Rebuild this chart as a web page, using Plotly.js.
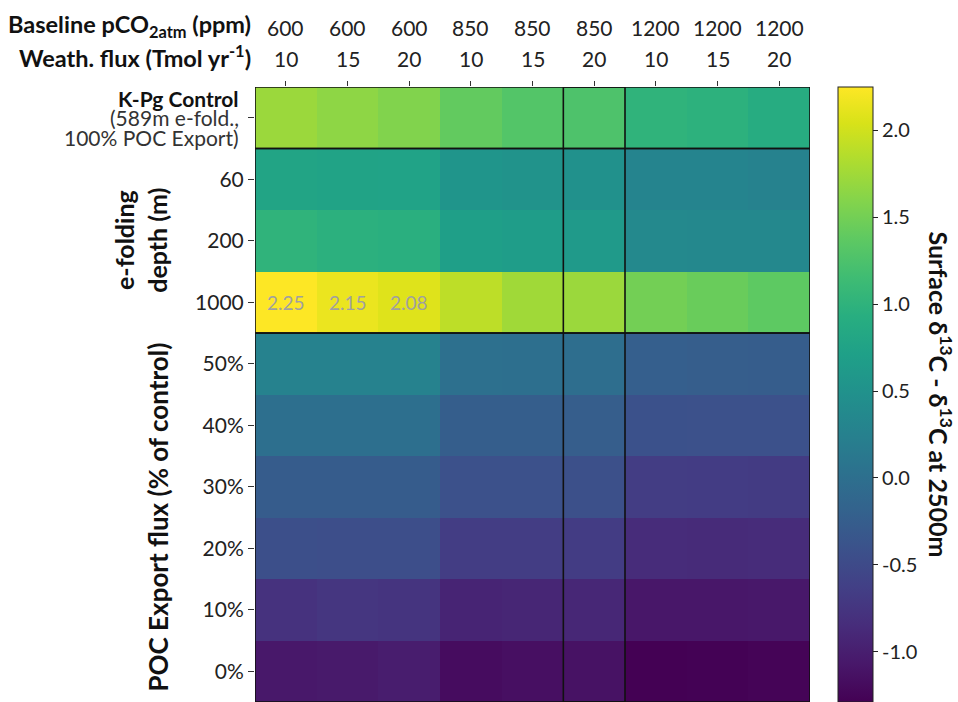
<!DOCTYPE html>
<html><head><meta charset="utf-8">
<script src="https://cdn.plot.ly/plotly-3.0.1.min.js"></script>
<style>html,body{margin:0;padding:0;background:#fff;}#chart{width:958px;height:702px;}</style>
</head><body><div id="chart"></div>
<script>
// ---- data ----
const pco2Labels = ['600','600','600','850','850','850','1200','1200','1200'];
const fluxLabels = ['10','15','20','10','15','20','10','15','20'];
const rowLabels = ['', '60', '200', '1000', '50%', '40%', '30%', '20%', '10%', '0%'];
const controlLabelLines = ['<b>K-Pg Control</b>', '(589m e-fold.,', '100% POC Export)'];
const rowControl = [1.72, 1.65, 1.58, 1.40, 1.30, 1.26, 1.01, 0.98, 0.90];
const rowEfold60 = [0.78, 0.76, 0.75, 0.55, 0.52, 0.48, 0.30, 0.29, 0.27];
const rowEfold200 = [1.01, 0.97, 0.95, 0.70, 0.67, 0.62, 0.37, 0.36, 0.35];
const rowEfold1000 = [2.25, 2.15, 2.08, 1.90, 1.75, 1.72, 1.50, 1.44, 1.37];
const rowPoc50 = [0.27, 0.27, 0.27, 0.02, 0.00, -0.01, -0.23, -0.25, -0.26];
const rowPoc40 = [0.00, 0.00, 0.00, -0.24, -0.24, -0.25, -0.41, -0.42, -0.42];
const rowPoc30 = [-0.27, -0.27, -0.27, -0.42, -0.42, -0.43, -0.66, -0.67, -0.68];
const rowPoc20 = [-0.44, -0.45, -0.45, -0.66, -0.66, -0.67, -0.86, -0.87, -0.86];
const rowPoc10 = [-0.79, -0.74, -0.76, -0.94, -0.92, -0.91, -1.08, -1.08, -1.07];
const rowPoc0 = [-1.07, -1.05, -1.01, -1.18, -1.15, -1.13, -1.29, -1.28, -1.26];
const rowGroups = [[0, 0], [1, 3], [4, 9]];   // first/last row index of each boxed group
const highlightColumn = 5;                    // 850 ppm / 20 Tmol
const labelThreshold = 2.0;                   // cells above this get their value printed
const zMin = -1.29, zMax = 2.25;

const z = [rowControl, rowEfold60, rowEfold200, rowEfold1000, rowPoc50, rowPoc40, rowPoc30, rowPoc20, rowPoc10, rowPoc0];
const nCols = fluxLabels.length, nRows = rowLabels.length;
const colIdx = fluxLabels.map((_, i) => i);
const rowIdx = rowLabels.map((_, i) => i);

const FONT = 'Lato, "Open Sans", sans-serif';

const trace = {
  type: 'heatmap', x: colIdx, y: rowIdx, z: z,
  colorscale: 'Viridis', zmin: zMin, zmax: zMax, zsmooth: false,
  hoverinfo: 'skip',
  colorbar: {
    thickness: 35, thicknessmode: 'pixels', len: 1, lenmode: 'fraction',
    x: 1.0505, xanchor: 'left', xpad: 0, y: 0.5, yanchor: 'middle', ypad: 0,
    outlinewidth: 1, outlinecolor: '#222',
    ticks: 'outside', ticklen: 5, tickcolor: '#222', tickwidth: 1,
    tickvals: [-1.0, -0.5, 0, 0.5, 1.0, 1.5, 2.0],
    ticktext: ['-1.0', '-0.5', '0.0', '0.5', '1.0', '1.5', '2.0'],
    tickfont: {family: FONT, size: 20, color: '#222'}
  }
};

const annotations = [];
// column headers: pCO2 row and weathering-flux row
colIdx.forEach(i => {
  annotations.push({xref: 'x', yref: 'paper', x: i, y: 1, yshift: 60, xanchor: 'center', yanchor: 'middle',
    text: pco2Labels[i], showarrow: false, font: {family: FONT, size: 21, color: '#222'}});
  annotations.push({xref: 'x', yref: 'paper', x: i, y: 1, yshift: 29, xanchor: 'center', yanchor: 'middle',
    text: fluxLabels[i], showarrow: false, font: {family: FONT, size: 21, color: '#222'}});
});
annotations.push({xref: 'paper', yref: 'paper', x: 0, y: 1, xshift: -2, yshift: 61, xanchor: 'right', yanchor: 'middle',
  text: '<b>Baseline pCO<sub>2atm</sub> (ppm)</b>', showarrow: false, font: {family: FONT, size: 23.5, color: '#111'}});
annotations.push({xref: 'paper', yref: 'paper', x: 0, y: 1, xshift: -2, yshift: 31, xanchor: 'right', yanchor: 'middle',
  text: '<b>Weath. flux (Tmol yr<sup>-1</sup>)</b>', showarrow: false, font: {family: FONT, size: 23.5, color: '#111'}});
// control row label lines
controlLabelLines.forEach((t, k) => annotations.push({
  xref: 'paper', yref: 'y', x: 0, y: 0, xshift: -14, yshift: 19.5 - 19.5 * k, xanchor: 'right', yanchor: 'middle',
  text: t, showarrow: false, font: {family: FONT, size: 21, color: k === 0 ? '#111' : '#333'}
}));
// y group titles
annotations.push({xref: 'paper', yref: 'y', x: 0, y: (rowGroups[1][0] + rowGroups[1][1]) / 2, xshift: -114, textangle: -90,
  xanchor: 'center', yanchor: 'middle',
  text: '<b>e-folding<br>depth (m)</b>', showarrow: false, font: {family: FONT, size: 25, color: '#111'}});
annotations.push({xref: 'paper', yref: 'y', x: 0, y: (rowGroups[2][0] + rowGroups[2][1]) / 2, xshift: -98, textangle: -90,
  xanchor: 'center', yanchor: 'middle',
  text: '<b>POC Export flux (% of control)</b>', showarrow: false, font: {family: FONT, size: 26, color: '#111'}});
// colorbar title
annotations.push({xref: 'paper', yref: 'paper', x: 1, y: 0.5, xshift: 130, textangle: 90, xanchor: 'center', yanchor: 'middle',
  text: '<b>Surface δ<sup>13</sup>C - δ<sup>13</sup>C at 2500m</b>', showarrow: false, font: {family: FONT, size: 25, color: '#111'}});
// value labels
z.forEach((row, r) => row.forEach((v, c) => {
  if (v > labelThreshold) annotations.push({xref: 'x', yref: 'y', x: c, y: r, text: v.toFixed(2), showarrow: false,
    font: {family: FONT, size: 19, color: '#a0a0a0'}});
}));

const shapes = [];
rowGroups.forEach(g => shapes.push({type: 'rect', xref: 'x', yref: 'y', x0: -0.5, x1: nCols - 0.5, y0: g[0] - 0.5, y1: g[1] + 0.5,
  line: {color: '#111', width: 1.6}}));
shapes.push({type: 'rect', xref: 'x', yref: 'y', x0: highlightColumn - 0.5, x1: highlightColumn + 0.5, y0: -0.5, y1: nRows - 0.5,
  line: {color: '#111', width: 1.6}});

const layout = {
  width: 958, height: 702,
  margin: {l: 255, r: 148, t: 87, b: 0, pad: 0},
  paper_bgcolor: '#fff', plot_bgcolor: '#fff',
  font: {family: FONT, color: '#222'},
  xaxis: {side: 'top', tickvals: colIdx, showticklabels: false, range: [-0.5, nCols - 0.5],
    ticks: 'outside', ticklen: 5, tickcolor: '#333', showgrid: false, zeroline: false, showline: false, fixedrange: true},
  yaxis: {tickvals: rowIdx, ticktext: rowLabels, range: [nRows - 0.5, -0.5],
    ticks: 'outside', ticklen: 6, tickcolor: '#333', showgrid: false, zeroline: false, showline: false,
    tickfont: {family: FONT, size: 21, color: '#222'}, fixedrange: true},
  shapes: shapes, annotations: annotations, showlegend: false
};

Plotly.newPlot('chart', [trace], layout, {displayModeBar: false, staticPlot: true});
</script></body></html>
